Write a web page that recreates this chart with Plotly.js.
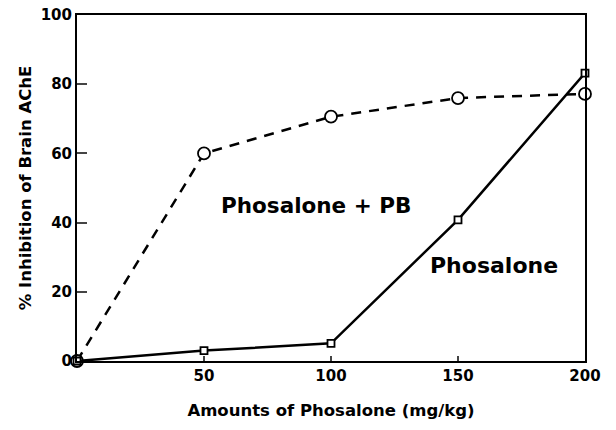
<!DOCTYPE html>
<html><head><meta charset="utf-8">
<script src="https://cdn.plot.ly/plotly-3.0.1.min.js"></script>
<style>body{margin:0;background:#fff}#c{width:616px;height:430px}</style>
</head><body><div id="c"></div>
<script>
const doses = [0, 50, 100, 150, 200];
const phosalonePB = [0, 60, 70.6, 76, 77.2];
const phosalone = [0, 3, 5.1, 40.8, 83.2];
const xTicks = [50, 100, 150, 200];
const yTicks = [0, 20, 40, 60, 80, 100];
const F = "DejaVu Sans, Liberation Sans, Arial, sans-serif";
const data = [
  {x: doses, y: phosalonePB, mode: 'lines+markers', name: 'Phosalone + PB',
   line: {color: '#000', width: 2.5, dash: '10px,8px'},
   marker: {symbol: 'circle', size: 12, color: '#fff', line: {color: '#000', width: 1.8}}, cliponaxis: false},
  {x: doses, y: phosalone, mode: 'lines+markers', name: 'Phosalone',
   line: {color: '#000', width: 2.5},
   marker: {symbol: 'square', size: 7, color: '#fff', line: {color: '#000', width: 1.8}}, cliponaxis: false}
];
const layout = {
  width: 616, height: 430,
  margin: {l: 77, r: 31, t: 15, b: 69},
  paper_bgcolor: '#fff', plot_bgcolor: '#fff',
  showlegend: false,
  font: {family: F, color: '#000'},
  xaxis: {range: [0, 200], tickvals: xTicks, ticks: 'inside', ticklen: 5, tickwidth: 1.5,
    showgrid: false, zeroline: false, showline: true, linewidth: 2, linecolor: '#000', mirror: true,
    tickfont: {size: 15, family: F, weight: 'bold'},
    title: {text: '<b>Amounts of Phosalone (mg/kg)</b>', font: {size: 16.5, family: F}, standoff: 20}},
  yaxis: {range: [0, 100], tickvals: yTicks, ticks: 'inside', ticklen: 10, tickwidth: 1.5,
    showgrid: false, zeroline: false, showline: true, linewidth: 2, linecolor: '#000', mirror: true,
    tickfont: {size: 15, family: F, weight: 'bold'},
    title: {text: '<b>% Inhibition of Brain AChE</b>', font: {size: 16.5, family: F}, standoff: 5}},
  annotations: [
    {x: 94, y: 45, xref: 'x', yref: 'y', text: '<b>Phosalone + PB</b>', showarrow: false,
     font: {size: 21.5, family: F}},
    {x: 164, y: 27.5, xref: 'x', yref: 'y', text: '<b>Phosalone</b>', showarrow: false,
     font: {size: 22, family: F}}
  ]
};
Plotly.newPlot('c', data, layout, {displayModeBar: false});
</script></body></html>
